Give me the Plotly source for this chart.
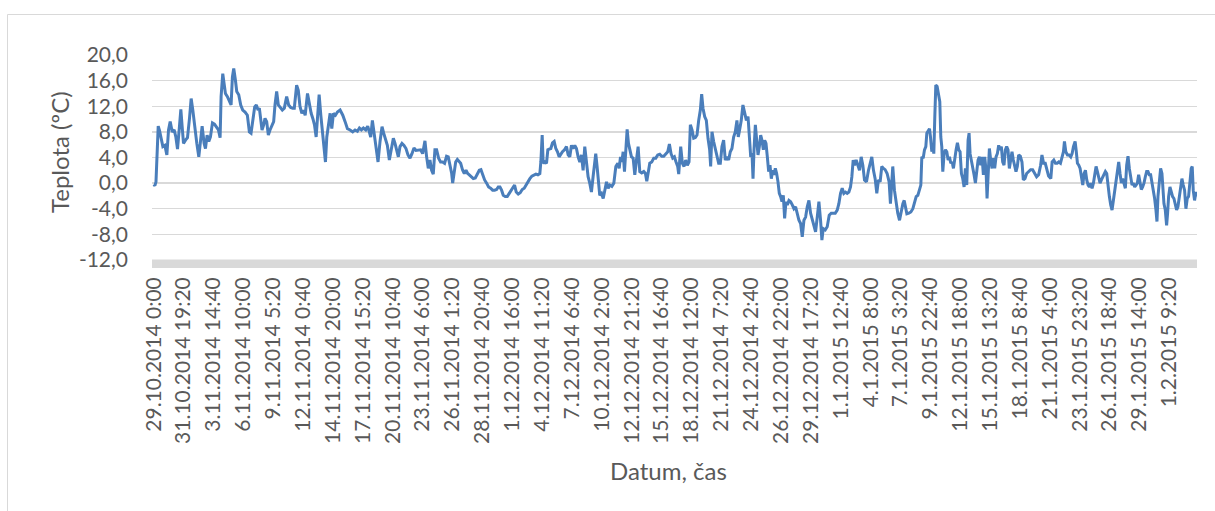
import plotly.graph_objects as go

hours = [
 0, 2.5, 5, 10, 13, 16.75, 20.5, 25, 29.5, 33.25, 37, 41.5, 46, 49.75, 53.5, 57.25, 61, 64, 67, 71.5,
 76, 80.5, 84.25, 88, 92.5, 97, 101.5, 105.25, 109, 113.5, 116.5, 120.25, 124, 127.75, 132.25, 136.75,
 142, 145.75, 149.5, 151.75, 155.5, 158.5, 161.5, 166, 170.5, 174.25, 177.25, 180.25, 184, 187, 191.5,
 196, 200.5, 205.75, 211, 215.5, 219.25, 223, 227.5, 231.25, 235, 238, 241, 244, 247.75, 250.75, 254.5,
 258.25, 262, 266.5, 270.25, 273.25, 277, 280.75, 285.25, 289.75, 294.25, 299.5, 304, 308.5, 313,
 316.75, 322, 325.75,
 329.5, 333.75, 337.5, 341.25, 346.5, 351, 354.75, 358.5, 362.25, 366, 369, 372.75, 376.5, 380.25, 384,
 387, 390, 393.75, 397.5, 401.25, 405, 409.5, 414, 420, 426, 431.25, 436.5, 442.5, 448.5, 453.75, 459,
 463.5, 468, 472.5, 477.75, 482.25, 486, 489, 492.75, 496.5, 501, 505.5, 510, 514.5, 518.25, 522, 526.5,
 531, 535.5, 540, 543.75, 547.5, 551.25, 555, 559.5, 564, 568.5, 573, 577.5, 582, 586.5, 591, 596.25,
 601.5, 606, 611.25, 615, 618.75, 622.5, 626.25, 630, 633.75, 637.5, 642, 646.5, 651, 655.5, 660, 663.75,
 671.5, 673.75, 676.75, 680.5, 684.25, 688, 691.75, 696.25, 700, 703.75, 707.5, 711.25, 715.75, 720.25,
 724.75, 729.25, 733.75, 737.5, 741.25, 745.75, 750.25, 754.75, 759.25, 763.75, 768.25, 772.75, 776.5,
 780.25, 784, 787.75, 792.25, 796.75, 801.25, 805.75, 809.5, 813.25, 817, 821.5, 826, 830.5, 835, 838.75,
 843.25, 847.75, 852.25, 856.75, 861.25, 865.75, 870.25, 872.5, 875.5, 877.75, 881.5, 885.25, 888.25,
 891.25, 895, 898.75, 902.5, 906.25, 910, 913.75, 917.5, 921.25, 925.75, 930.25, 934, 937.75, 941.5,
 945.25, 949, 952.75, 956.5, 960.25, 964, 967.75, 971.5, 975.25, 979, 982.75, 986.5, 990.25, 994,
 996.25, 999.25, 1002.25, 1005.25,
 1009.25, 1013, 1016.75, 1020.5, 1024.25, 1028, 1032.5, 1037, 1041.5, 1046, 1049, 1052, 1055, 1058, 1061,
 1064, 1067, 1070, 1073, 1076.75, 1080.5, 1084.25, 1088, 1091.75, 1095.5, 1100, 1104.5, 1108.25, 1111.25,
 1115, 1118, 1122.5, 1127, 1131.5, 1136, 1140.5, 1145, 1149.5, 1154, 1158.5, 1162.25, 1166, 1169.75,
 1173.5, 1177.25, 1181, 1183.25, 1185.5, 1187.75, 1191.5, 1195.25, 1199, 1202.75, 1206.5, 1209.5,
 1213.25, 1217, 1220.75, 1224.5, 1228.25, 1232, 1235, 1238, 1241.75, 1245.5, 1249.25, 1253, 1255.25,
 1258.25, 1262, 1265.75, 1269.5, 1273.25, 1277, 1280.75, 1284.5, 1288.25, 1292, 1295.75, 1299.5,
 1303.25, 1307, 1310.75, 1314.5, 1317.5, 1320.5, 1324.25, 1328,
 1335.75, 1339.5, 1342.5, 1345.5, 1348.5, 1350.75, 1353, 1356, 1359, 1362, 1365, 1368, 1371, 1374, 1377,
 1380, 1383, 1386, 1389, 1392, 1395, 1398, 1401, 1404, 1407, 1410, 1413, 1416, 1419, 1422, 1425, 1428,
 1431.75, 1435.5, 1439.25, 1443, 1446.75, 1450.5, 1454.25, 1458, 1461.75, 1465.5, 1469.25, 1473,
 1476.75, 1480.5, 1484.25, 1488, 1491.75, 1495.5, 1499.25, 1503, 1506, 1509, 1513.5, 1518, 1522.5, 1527,
 1531.5, 1536, 1540.5, 1544.25, 1548, 1551.75, 1555.5, 1559.25, 1563, 1566.75, 1570.5, 1573.5, 1576.5,
 1579.5, 1583.25, 1587, 1590.75, 1594.5, 1598.25, 1602, 1606.5, 1611, 1614.75, 1618.5, 1622.25, 1626,
 1629.75, 1633.5, 1637.25, 1641, 1644.75, 1648.5, 1653, 1657.5, 1660.5, 1663.5, 1665.75, 1669.5,
 1673.25, 1677,
 1681, 1684.75, 1688.5, 1691.5, 1694.5, 1697.5, 1702, 1706.5, 1711, 1714.75, 1718.5, 1722.25, 1726, 1729,
 1731.25, 1734.25, 1737.25, 1740.25, 1742.5, 1745.5, 1748.5, 1750.75, 1753.75, 1756, 1758.25, 1760.5,
 1762.75, 1765.75, 1768.75, 1771.75, 1774, 1776.25, 1778.5, 1781.5, 1784.5, 1787.5, 1790.5, 1793.5,
 1796.5, 1799.5, 1802.5, 1805.5, 1808.5, 1811.5, 1814.5, 1817.5, 1820.5, 1823.5, 1826.5, 1829.5,
 1832.5, 1835.5, 1837.75, 1840, 1843, 1846, 1849, 1852, 1855, 1858, 1861, 1864, 1867, 1870, 1873, 1876,
 1878.25, 1880.5, 1883.5, 1886.5, 1889.5, 1892.5, 1895.5, 1898.5, 1901.5, 1904.5, 1907.5, 1910.5,
 1913.5, 1916.5, 1919.5, 1922.5, 1925.5, 1928.5, 1931.5, 1934.5, 1937.5, 1940.5, 1943.5, 1946.5,
 1949.5, 1953.25, 1957, 1960, 1963.75, 1967.5, 1972, 1976.5, 1981, 1985.5, 1990, 1994.5, 1999, 2002,
 2005.75, 2009.5, 2013.25, 2017,
 2022, 2025, 2028.75, 2032.5, 2036.25, 2040, 2043.75, 2047.5, 2050.5, 2052.75, 2055.75, 2059.5, 2063.25,
 2067, 2070, 2073, 2076.75, 2079, 2082, 2085, 2088, 2091, 2094, 2097, 2100, 2103, 2106, 2109, 2112, 2115,
 2118, 2121, 2124, 2127, 2130, 2133, 2136, 2139, 2142, 2145, 2148, 2151, 2154, 2157, 2160, 2163, 2166,
 2169, 2172, 2175, 2178, 2181, 2184, 2187, 2190, 2193, 2196, 2199, 2202, 2205, 2208, 2211, 2214, 2217,
 2220, 2223, 2226, 2229, 2232, 2235, 2238, 2241, 2244, 2247, 2250, 2253, 2256, 2259, 2261.25, 2263.5,
 2266.5, 2269.5, 2272.5, 2274.75, 2277, 2280, 2283, 2285.25, 2287.5, 2290.5, 2293.5, 2296.5, 2299.5,
 2302.5, 2305.5, 2308.5, 2311.5, 2314.5, 2317.5, 2320.5, 2323.5, 2326.5, 2329.5, 2332.5, 2335.5,
 2338.5, 2340.75, 2343, 2346, 2349, 2351.25,
]

temps = [
 -0.2, -0.4, 0.2, 8.9, 8.2, 6.7, 5.7, 5.9, 4.4, 8.3, 9.6, 8.0, 8.3, 7.2, 5.3, 8.3, 11.5, 8.8, 6.2, 6.7,
 7.1, 10.1, 13.2, 11.4, 8.3, 6.2, 4.1, 6.7, 8.9, 6.2, 5.4, 7.5, 6.5, 7.2, 9.4, 9.2,
 8.7, 8.3, 7.1, 13.5, 17.1, 15.1, 14.0, 13.5, 12.7, 12.2, 16.6, 17.9, 16.1, 14.3, 13.8,
 12.2, 11.4, 11.1, 10.6, 8.0, 7.8, 9.6, 11.9, 12.2, 11.4, 11.7, 9.8, 8.3, 9.1, 10.1, 9.6,
 7.5, 8.3, 9.1, 9.6, 12.2, 14.3, 12.2, 11.7, 11.4, 11.7, 13.5, 12.2, 11.8, 11.7,
 11.7, 15.3, 14.5,
 12.0, 10.9, 11.4, 10.6, 14.0, 11.9, 10.9, 10.1, 9.1, 7.2, 10.4, 13.8, 10.6, 7.8, 5.7,
 3.3, 7.2, 9.1, 10.9, 8.5, 10.9, 10.6, 11.1, 11.4, 10.6, 9.6, 8.5, 8.3, 8.0, 8.3, 8.1,
 8.6, 8.3, 8.6, 8.3, 8.9, 7.8, 7.2, 9.8, 8.0, 5.9, 3.3, 6.5, 8.8, 7.8, 7.0, 5.9,
 3.6, 5.7, 7.0, 6.2, 5.2, 4.1, 5.7, 6.2, 5.9, 5.4, 4.4, 3.9, 4.6, 5.5, 5.1, 5.2,
 5.2, 4.6, 6.6, 4.1, 2.3, 3.6, 2.0, 1.4, 5.2, 5.2, 3.9, 3.3, 3.3, 3.1, 4.2, 4.1,
 1.5, 0.0, 1.5, 3.3, 3.7, 3.3, 3.1, 2.0, 1.5, 2.0, 1.5, 1.3, 1.0, 0.7,
 0.8, 1.3, 2.0, 2.1, 1.3, 0.5, 0.0, -0.6, -0.8, -1.1, -1.1, -1.0, -0.6,
 -0.6, -1.1, -1.9, -2.1, -2.1, -1.6, -1.1, -0.5, -0.3, -1.4, -1.7, -1.5, -1.0, -0.8, -0.3,
 0.2, 0.7, 1.1, 1.3, 1.4, 1.3, 1.5, 3.3, 7.5, 3.1, 3.3, 3.1, 5.2,
 5.3, 5.4, 6.3, 6.5, 5.4, 4.9, 4.1, 4.6, 4.9, 5.2, 5.7, 4.4, 4.1, 5.9,
 5.4, 5.9, 5.4, 4.1, 3.3, 4.4, 2.0, 5.7, 3.1, 1.0, 0.0, -1.4, 1.0, 3.1,
 4.6, 2.6, 0.0, -1.9,
 -1.6, -2.4, -1.1, 0.2, -0.8, -0.3, -0.5, 0.0, 2.6, 3.1, 2.3, 4.1, 3.3, 4.9, 1.8,
 5.7, 8.4, 6.2, 5.2, 4.1, 3.9, 1.3, 3.6, 5.7, 1.8, 1.6, 1.8, 1.5, 0.3,
 2.0, 3.1, 3.3, 3.9, 3.9, 4.4, 4.5, 4.2, 4.2, 4.5, 4.9, 6.1, 4.6, 3.9,
 4.1, 3.3, 2.6, 1.4, 4.1, 5.7, 3.1, 2.6, 3.6, 2.8, 3.3, 9.1,
 8.3, 7.0, 7.1, 7.5, 9.8, 11.4, 13.9, 11.7, 10.4, 9.8, 7.0, 5.2, 2.6,
 8.0, 6.5, 5.4, 4.1, 3.1, 3.1, 5.7, 6.7, 3.6, 4.1, 3.6, 4.9,
 5.4, 7.2, 8.0, 9.8, 7.2, 8.3, 9.8, 12.2,
 9.8, 10.4, 7.8, 4.1, 4.6, 0.7, 5.2, 9.1, 6.7, 4.4, 5.7, 7.5, 6.7, 5.2, 6.7,
 6.2, 4.1, 1.8, 2.8, 0.7, 2.0, 1.3, 2.3, 1.5, 0.2, -1.6, -2.1, -2.9, -1.9, -5.5, -2.9, -3.4,
 -2.7, -2.9, -3.4, -4.0, -3.7, -4.7, -5.8, -6.3, -8.4, -5.8, -5.3, -3.7,
 -2.7, -4.7, -5.8, -6.6, -7.6, -5.3, -2.9, -5.8, -8.9, -7.1, -7.3, -6.8, -5.0, -4.7,
 -4.7, -4.7, -4.2, -3.2, -1.6, -0.8, -1.6, -1.4, -1.6, -1.4, -0.6, 1.0, 3.6,
 2.8, 3.6, 2.8, 2.0, 4.1, 2.8, 0.5, 0.2, 2.0, 3.3, 4.1, 2.0, 0.7,
 -1.6, 0.5, 0.2, 2.6, 2.3, 2.1, 1.5, 0.2, -3.2, -0.6, 2.6, -1.1,
 -3.2, -4.7,
 -5.8, -4.2, -3.2, -2.7, -3.7, -4.8, -4.7, -4.5, -4.0, -2.9, -2.1, -1.9, -1.1, -0.3,
 4.1, 3.9, 5.2, 5.7, 7.8, 8.3, 8.5, 7.2, 4.9, 5.7, 4.6, 10.4,
 15.3, 15.1, 14.0, 12.7, 7.2, 5.7, 1.8, 4.6, 5.2, 4.9, 3.6, 4.1,
 3.1, 3.3, 2.3, 4.1, 5.2, 6.3, 5.2, 4.9, 1.5, 0.7, -0.6, 2.3,
 -0.3, 6.7, 7.8, 4.6, 3.6, 2.8, 1.3, 0.0, 1.5, 3.6, 4.1, 2.8, 4.1, 1.3, 4.1, 2.0,
 -2.4, 1.5, 5.4, 3.6, 2.3, 3.9, 2.3, 4.1, 4.6, 5.9, 5.2, 5.7,
 3.3, 2.8, 5.2, 5.7, 5.2, 2.3, 4.1, 4.9, 3.6, 2.8, 1.8, 2.6,
 4.4, 4.2, 3.3, 0.5, 0.7, 1.5, 1.8, 2.1, 2.1, 1.6, 1.0, 1.3, 2.8, 4.4,
 3.1, 3.1, 2.0, 1.1,
 0.7, 3.3, 3.6, 3.1, 3.1, 3.3, 3.1, 3.9, 4.9, 6.5, 4.9, 4.4, 4.4,
 4.1, 4.6, 5.7, 6.5, 5.2, 3.1, 2.8, 2.3, 1.0, -0.3, 1.5, 2.0, 0.5, -0.3, -0.6, 0.0, -0.8,
 0.0, 1.3, 2.6, 1.8, 0.7, 0.0, 0.5, 1.0, 1.3, 1.8, 1.5, -0.8, -2.1, -3.4, -4.2, -2.7, -1.1,
 0.7, 2.3, 3.3, 1.5, 0.0, 0.7, 0.0, -0.8, 2.8, 4.2, 2.3, 0.5, -0.3, 0.0, -0.6, -0.3, 0.0,
 1.3, 0.2, -1.0, -0.6, 0.0, 1.0, 1.8, 1.8, 1.3, 1.3, 0.2, -0.8, -2.4, -4.2, -6.0, -2.1,
 0.5, 2.3, 1.5, -1.6, -3.2, -4.2, -6.6, -4.7, -2.1, -0.6, -1.6, -2.1, -2.4,
 -3.2, -4.2, -3.7, -2.4, -0.8, 0.7, -0.3, -1.1, -4.0, -2.4, -2.1, 0.0,
 2.3, 2.6, -1.1, -2.7, -1.4, -2.1,
]

# Category labels shown every 202 samples (20-minute sampling -> 67 h 20 min)
tick_labels = [
 "29.10.2014 0:00", "31.10.2014 19:20", "3.11.2014 14:40", "6.11.2014 10:00", "9.11.2014 5:20",
 "12.11.2014 0:40", "14.11.2014 20:00", "17.11.2014 15:20", "20.11.2014 10:40", "23.11.2014 6:00",
 "26.11.2014 1:20", "28.11.2014 20:40", "1.12.2014 16:00", "4.12.2014 11:20", "7.12.2014 6:40",
 "10.12.2014 2:00", "12.12.2014 21:20", "15.12.2014 16:40", "18.12.2014 12:00", "21.12.2014 7:20",
 "24.12.2014 2:40", "26.12.2014 22:00", "29.12.2014 17:20", "1.1.2015 12:40", "4.1.2015 8:00",
 "7.1.2015 3:20", "9.1.2015 22:40", "12.1.2015 18:00", "15.1.2015 13:20", "18.1.2015 8:40",
 "21.1.2015 4:00", "23.1.2015 23:20", "26.1.2015 18:40", "29.1.2015 14:00", "1.2.2015 9:20",
]
tick_step_hours = 67 + 20 / 60
y_ticks = [-12, -8, -4, 0, 4, 8, 12, 16, 20]
y_tick_labels = ["-12,0", "-8,0", "-4,0", "0,0", "4,0", "8,0", "12,0", "16,0", "20,0"]

GRAY_TEXT = "#595959"
FONT = "Lato"

fig = go.Figure()
fig.add_trace(go.Scatter(
    x=hours, y=temps, mode="lines",
    line=dict(color="#4a7ebb", width=3),
    hoverinfo="skip", showlegend=False,
))

W, H = 1215, 511
L, R, T, B = 152, 18, 55, 251
pw, ph = W - L - R, H - T - B

fig.update_layout(
    width=W, height=H,
    margin=dict(l=L, r=R, t=T, b=B),
    paper_bgcolor="white", plot_bgcolor="white",
    font=dict(family=FONT, color=GRAY_TEXT, size=21),
    xaxis=dict(
        range=[-4, 2351.5],
        tickvals=[i * tick_step_hours for i in range(len(tick_labels))],
        ticktext=tick_labels,
        tickangle=-90,
        showgrid=False, zeroline=False, showline=False, ticks="",
        tickfont=dict(family=FONT, size=21, color=GRAY_TEXT),
        ticklabelstandoff=12,
    ),
    yaxis=dict(
        range=[-12, 20],
        tickvals=y_ticks, ticktext=y_tick_labels,
        showgrid=True, gridcolor="#d9d9d9", gridwidth=1.3,
        zeroline=False, showline=False, ticks="",
        tickfont=dict(family=FONT, size=21, color=GRAY_TEXT),
        ticklabelstandoff=23,
    ),
    shapes=[
        # thick light-gray category axis band
        dict(type="rect", xref="paper", yref="paper",
             x0=0, x1=1, y0=-8 / ph, y1=0.4 / ph,
             fillcolor="#d9d9d9", line=dict(width=0), layer="above"),
        # chart area border
        dict(type="rect", xref="paper", yref="paper",
             x0=(7.5 - L) / pw, x1=(1240 - L) / pw,
             y0=(T + ph - 540) / ph, y1=(T + ph - 14.5) / ph,
             line=dict(color="#d9d9d9", width=1), fillcolor="rgba(0,0,0,0)", layer="below"),
    ],
    annotations=[
        dict(text="Teplota (ºC)", xref="paper", yref="paper",
             x=(59.5 - L) / pw, y=(T + ph - 152.5) / ph,
             xanchor="center", yanchor="middle", textangle=-90, showarrow=False,
             font=dict(family=FONT, size=24, color=GRAY_TEXT)),
        dict(text="Datum, čas", xref="paper", yref="paper",
             x=(668 - L) / pw, y=(T + ph - 470) / ph,
             xanchor="center", yanchor="middle", showarrow=False,
             font=dict(family=FONT, size=24, color=GRAY_TEXT)),
    ],
)

fig.write_html(
    "out.html",
    config={"displayModeBar": False, "staticPlot": True},
    post_script="document.body.style.margin='0';document.body.style.overflow='hidden';",
)
